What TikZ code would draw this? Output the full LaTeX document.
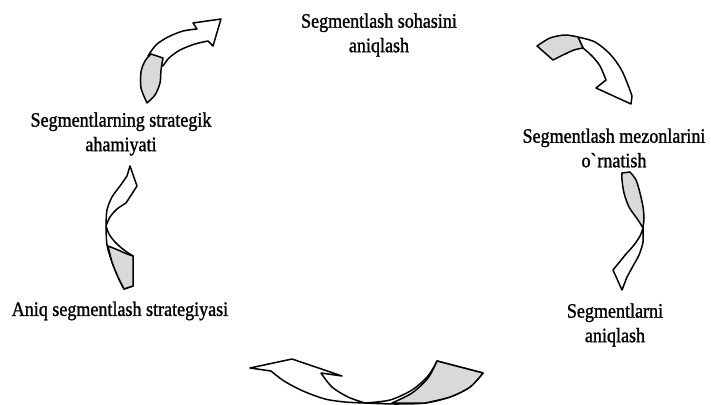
\documentclass[tikz,border=0pt]{standalone}
\usepackage{fontspec}
\setmainfont[FakeStretch=0.88, FakeBold=1.2]{Liberation Serif}
\begin{document}
\begin{tikzpicture}[
  x=1pt, y=1pt, yscale=-1,
  stage/.style={align=center, inner sep=0pt, font=\fontsize{20.5}{24.5}\selectfont},
  ribbon/.style={draw, fill=white, line width=1.5pt, line join=round},
  backside/.style={draw, fill=black!15, line width=1.5pt, line join=round}
]
\useasboundingbox (0,0) rectangle (711,404);

% Stages
\node[stage] (sohasi) at (379,35) {Segmentlash sohasini\\aniqlash};
\node[stage] (mezonlar) at (614,148) {Segmentlash mezonlarini\\o\textasciigrave rnatish};
\node[stage] (segmentlar) at (615,325) {Segmentlarni\\aniqlash};
\node[stage] (strategiya) at (120,311) {Aniq segmentlash strategiyasi};
\node[stage] (ahamiyat) at (121,134) {Segmentlarning strategik\\ahamiyati};

% Top left arrow
\draw[ribbon] plot[smooth] coordinates {(148,56) (156,45) (168,37) (183,31) (197,29)} -- (193,23) -- (221,19) -- (213,46)
  -- (208,41) -- plot[smooth] coordinates {(208,41) (195,44) (180,50) (169,58) (163,66)} -- cycle;
\draw[backside] plot[smooth] coordinates {(147,103) (141,88) (141,72) (145,61) (151,54)} -- (163,58)
  -- plot[smooth] coordinates {(163,58) (161,70) (160,83) (155,95) (147,103)} -- cycle;

% Top right arrow
\draw[ribbon] (578,37) -- plot[smooth] coordinates {(578,37) (595,42) (610,54) (621,69) (628,85) (632,96)} -- (631,104)
  -- (596,88) -- (606,80) -- plot[smooth] coordinates {(606,80) (600,66) (592,56) (583,48)} -- cycle;
\draw[backside] (537,46) -- (553,60) -- plot[smooth] coordinates {(553,60) (563,55) (574,50) (583,48)} -- (578,37)
  -- plot[smooth] coordinates {(578,37) (565,35) (550,38) (537,46)} -- cycle;

% Right arrow
\draw[backside] (622,173) -- (630,172) -- plot[smooth] coordinates {(630,172) (636,180) (640,193) (643,207) (644,218) (643,228)}
  -- plot[smooth] coordinates {(643,228) (638,220) (629,207) (624,193) (622,180) (622,173)} -- cycle;
\draw[ribbon] (643,228) -- plot[smooth] coordinates {(643,228) (643,242) (639,255) (633,266) (627,277)} -- (622,290)
  -- (613,270) -- (626,254) -- plot[smooth] coordinates {(626,254) (634,245) (640,236) (643,228)} -- cycle;

% Bottom arrow
\draw[ribbon] (250,368) -- (292,359) -- (342,376) -- (321,373)
  -- plot[smooth] coordinates {(321,373) (332,387) (348,397) (365,403)}
  -- plot[smooth] coordinates {(365,403) (345,402) (325,399) (303,391) (284,381) (271,371)} -- cycle;
\draw[ribbon] (365,403) -- plot[smooth] coordinates {(365,403) (390,400) (412,390) (428,376) (437,361)} -- (483,373)
  -- plot[smooth] coordinates {(483,373) (470,387) (450,397) (425,403) (395,404) (365,403)} -- cycle;
\draw[backside] (437,361) -- (483,373) -- plot[smooth] coordinates {(483,373) (470,387) (450,397) (425,403)} -- (392,403)
  -- plot[smooth] coordinates {(392,403) (412,393) (428,378) (437,361)} -- cycle;

% Left arrow
\draw[ribbon] (106,226) -- plot[smooth] coordinates {(106,226) (107,210) (112,197) (120,186) (127,176)} -- (130,166)
  -- (137,186) -- (126,203) -- plot[smooth] coordinates {(126,203) (117,209) (110,217) (106,226)} -- cycle;
\draw[ribbon] (106,226) -- plot[smooth] coordinates {(106,226) (107,245) (112,262) (118,277) (124,289)} -- (133,286)
  -- (133,256) -- plot[smooth] coordinates {(133,256) (124,250) (115,242) (109,234) (106,226)} -- cycle;
\draw[backside] plot[smooth] coordinates {(108,246) (118,250) (127,254) (133,256)} -- (133,286) -- (124,289)
  -- plot[smooth] coordinates {(124,289) (118,277) (112,262) (108,246)} -- cycle;
\end{tikzpicture}
\end{document}
